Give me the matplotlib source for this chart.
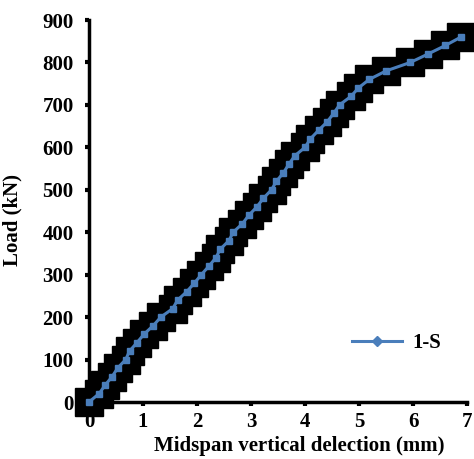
import matplotlib
matplotlib.use("Agg")
import matplotlib.pyplot as plt

# midspan deflection (mm) vs load (kN)
deflection = [0, 0.19, 0.30, 0.43, 0.53, 0.68, 0.75, 0.89, 1.02, 1.19,
              1.33, 1.55, 1.64, 1.81, 1.95, 2.08, 2.22, 2.35, 2.43, 2.59,
              2.67, 2.84, 2.96, 3.11, 3.23, 3.38, 3.47, 3.60, 3.70, 3.81,
              4.00, 4.10, 4.25, 4.41, 4.53, 4.64, 4.85, 4.99, 5.19, 5.50,
              5.95, 6.28, 6.60, 6.89]
load = [0, 20, 40, 60, 80, 100, 120, 140, 160, 180,
        200, 220, 240, 260, 280, 300, 320, 340, 360, 380,
        400, 420, 440, 460, 480, 500, 520, 540, 560, 580,
        600, 620, 640, 660, 680, 700, 720, 740, 760, 780,
        800, 820, 840, 860]
series_name = "1-S"
xticks = [0, 1, 2, 3, 4, 5, 6, 7]
yticks = [0, 100, 200, 300, 400, 500, 600, 700, 800, 900]

plt.rcParams['font.family'] = ['Liberation Serif', 'DejaVu Serif']
plt.rcParams['font.weight'] = 'bold'

fig = plt.figure(figsize=(4.74, 4.59), dpi=100)
ax = fig.add_axes([89/474, 1 - 402/459, (467 - 89)/474, (402 - 20)/459])

ax.plot(deflection, load, linestyle='none', marker='s', markersize=20.5,
        color='black', clip_on=False, label='_nolegend_', zorder=2)
ax.plot(deflection, load, color='#4a7ebb', linewidth=2.2, marker='s',
        markersize=5, clip_on=False, label=series_name, zorder=3)

ax.set_xlim(0, 7)
ax.set_ylim(0, 900)
ax.set_xticks(xticks)
ax.set_yticks(yticks)

for s in ['top', 'right']:
    ax.spines[s].set_visible(False)
for s in ['left', 'bottom']:
    ax.spines[s].set_linewidth(2.5)
    ax.spines[s].set_zorder(1)
ax.tick_params(direction='out', length=3, width=3, labelsize=15, pad=8)
ax.tick_params(axis='x', pad=4)
for lbl in ax.get_xticklabels() + ax.get_yticklabels():
    lbl.set_fontweight('bold')

ax.set_xlabel("Midspan vertical delection (mm)", fontsize=15,
              fontweight='bold')
ax.xaxis.set_label_coords(0.556, -0.088)
ax.set_ylabel("Load (kN)", fontsize=15, fontweight='bold')
ax.yaxis.set_label_coords(-0.175, 0.476)

leg = ax.legend(loc='center left', bbox_to_anchor=(333/474, 1 - 343/459),
                bbox_transform=fig.transFigure, frameon=False,
                handlelength=2.4, handletextpad=0.5,
                prop={'weight': 'bold', 'size': 15})
leg.legend_handles[0].set_marker('D')

fig.savefig("out.png", dpi=100)
